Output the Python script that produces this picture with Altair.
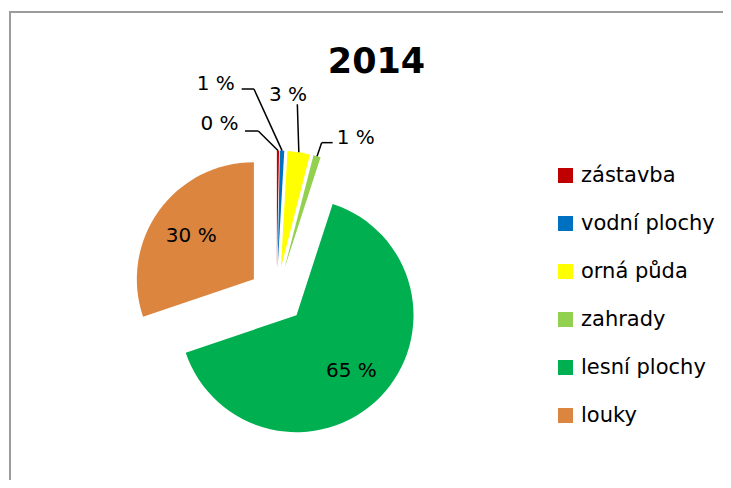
import altair as alt
import pandas as pd

# ---- data ----
categories = ["zástavba", "vodní plochy", "orná půda", "zahrady", "lesní plochy", "louky"]
shares = [0.3, 0.6, 3.1, 1.0, 64.8, 30.2]
colors = ["#C00000", "#0070C0", "#FFFF00", "#92D050", "#00B050", "#DC853F"]
title_text = "2014"

# ---- layout (chart pixel coordinates) ----
CX, CY = 268.6, 287.5       # pie centre before explosion
R = 117                     # pie radius
EXPLODE = 28                # radial offset of every slice
INNER_LABEL_R = 77          # radius of labels drawn inside slices
FONT = "DejaVu Sans"

label_inside = [False, False, False, False, True, True]
# outside labels: offsets relative to the slice's outer mid point
label_dx = [-58.5, -66.3, -10.8, 38.7, 0, 0]
label_dy = [-27.5, -67.5, -58.9, -20.0, 0, 0]
elbow_dx = [-19.7, -28.1, -1.5, 4.6, 0, 0]
elbow_dy = [-19.5, -61.6, -47.9, -13.6, 0, 0]
end_dx = [-33.0, -40.4, -1.5, 15.6, 0, 0]
end_dy = [-19.5, -61.6, -47.9, -13.6, 0, 0]

df = pd.DataFrame({
    "category": categories,
    "share": shares,
    "order": list(range(len(categories))),
    "inside": label_inside,
    "ldx": label_dx, "ldy": label_dy,
    "edx": elbow_dx, "edy": elbow_dy,
    "ndx": end_dx, "ndy": end_dy,
})

base = (
    alt.Chart(df)
    .transform_joinaggregate(total="sum(share)")
    .transform_window(cum="sum(share)", sort=[alt.SortField("order")], frame=[None, 0])
    .transform_calculate(
        t0="2*PI*(datum.cum - datum.share)/datum.total",
        t1="2*PI*datum.cum/datum.total",
    )
    .transform_calculate(mid="(datum.t0 + datum.t1)/2")
    .transform_calculate(
        cx=f"{CX} + {EXPLODE}*sin(datum.mid)",
        cy=f"{CY} - {EXPLODE}*cos(datum.mid)",
    )
    .transform_calculate(
        ax=f"datum.cx + {R}*sin(datum.mid)",
        ay=f"datum.cy - {R}*cos(datum.mid)",
        pct="round(100*datum.share/datum.total) + ' %'",
    )
    .transform_calculate(
        lx=f"datum.inside ? datum.cx + {INNER_LABEL_R}*sin(datum.mid) : datum.ax + datum.ldx",
        ly=f"(datum.inside ? datum.cy - {INNER_LABEL_R}*cos(datum.mid) : datum.ay + datum.ldy) + 1.3",
        ex="datum.ax + datum.edx",
        ey="datum.ay + datum.edy",
        nx="datum.ax + datum.ndx",
        ny="datum.ay + datum.ndy",
    )
)

one = pd.DataFrame({"a": [0]})

border_top = alt.Chart(one).mark_rule(color="#9c9c9c", strokeWidth=2).encode(
    x=alt.value(1), x2=alt.value(715), y=alt.value(4)
)
border_left = alt.Chart(one).mark_rule(color="#9c9c9c", strokeWidth=2).encode(
    x=alt.value(2), y=alt.value(3), y2=alt.value(472)
)

arcs = base.mark_arc(outerRadius=R).encode(
    theta=alt.Theta("t0:Q", scale=None),
    theta2="t1:Q",
    x=alt.X("cx:Q", scale=None, axis=None, stack=False),
    y=alt.Y("cy:Q", scale=None, axis=None, stack=False),
    color=alt.Color(
        "category:N",
        scale=alt.Scale(domain=categories, range=colors),
        sort=categories,
        legend=alt.Legend(
            title=None,
            orient="none",
            legendX=547,
            legendY=157,
            padding=0,
            symbolType="square",
            symbolSize=225,
            symbolStrokeWidth=0,
            labelFont=FONT,
            labelFontSize=21,
            labelColor="black",
            labelOffset=5,
            rowPadding=26,
            labelLimit=300,
        ),
    ),
)

seg1 = base.transform_filter("!datum.inside").mark_rule(color="black", strokeWidth=1.5).encode(
    x=alt.X("ax:Q", scale=None), y=alt.Y("ay:Q", scale=None),
    x2="ex:Q", y2="ey:Q",
)
seg2 = base.transform_filter("!datum.inside").mark_rule(color="black", strokeWidth=1.5).encode(
    x=alt.X("ex:Q", scale=None), y=alt.Y("ey:Q", scale=None),
    x2="nx:Q", y2="ny:Q",
)

labels = base.mark_text(font=FONT, fontSize=20, color="black", align="center", baseline="middle").encode(
    x=alt.X("lx:Q", scale=None), y=alt.Y("ly:Q", scale=None), text="pct:N"
)

title = alt.Chart(one).mark_text(
    text=title_text, font=FONT, fontSize=35, fontWeight="bold", color="black",
    align="center", baseline="middle",
).encode(x=alt.value(368.5), y=alt.value(54.3))

chart = (
    alt.layer(border_top, border_left, arcs, seg1, seg2, labels, title)
    .properties(width=715, height=472, autosize=alt.AutoSizeParams(type="none"), padding=0)
    .configure_view(strokeWidth=0)
)

chart.save("out.html", embed_options={"renderer": "svg", "actions": False})
